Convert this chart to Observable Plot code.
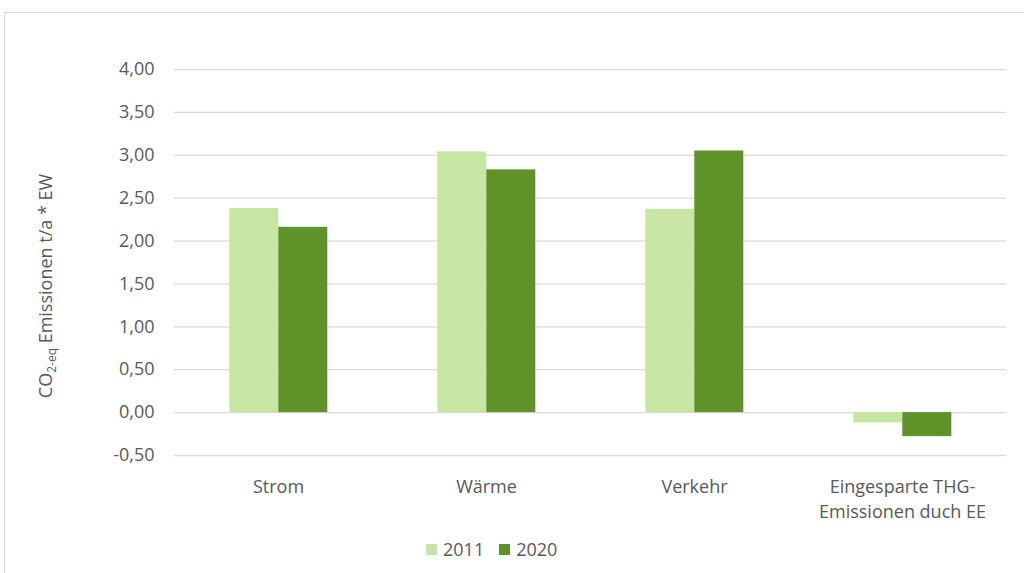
<!DOCTYPE html>
<html>
<head>
<meta charset="utf-8">
<script src="https://cdn.jsdelivr.net/npm/d3@7"></script>
<script src="https://cdn.jsdelivr.net/npm/@observablehq/plot@0.6"></script>
<style>
  html, body { margin: 0; padding: 0; background: #fff; overflow: hidden; width: 1024px; height: 573px; }
  #frame { position: absolute; left: 4px; top: 12px; width: 1100px; height: 700px; border: 1.5px solid #d9d9d9; box-sizing: border-box; }
  #chart { position: absolute; left: 0; top: 0; }
  #legend { position: absolute; left: 426px; top: 537px; font-family: "Open Sans", sans-serif; font-size: 18px; color: #595959; display: flex; align-items: center; }
  #legend .sw { display: inline-block; width: 11px; height: 11px; margin-right: 6px; }
  #legend .item { display: flex; align-items: center; margin-right: 15px; }
</style>
</head>
<body>
<div id="frame"></div>
<div id="chart"></div>
<div id="legend"></div>
<script>
const categories = ["Strom", "Wärme", "Verkehr", "Eingesparte THG-Emissionen duch EE"];
const categoryLabels = ["Strom", "Wärme", "Verkehr", "Eingesparte THG-\nEmissionen duch EE"];
const years = ["2011", "2020"];
const values2011 = [2.38, 3.04, 2.37, -0.12];
const values2020 = [2.16, 2.83, 3.05, -0.28];
const yTicks = [-0.5, 0, 0.5, 1, 1.5, 2, 2.5, 3, 3.5, 4];
const colors = ["#C7E6A3", "#5F9229"];

const data = [];
categories.forEach((c, i) => {
  data.push({category: c, year: years[0], value: values2011[i]});
  data.push({category: c, year: years[1], value: values2020[i]});
});

const fmt = d => d.toFixed(2).replace(".", ",");

const chart = Plot.plot({
  width: 1024,
  height: 530,
  marginLeft: 172.7,
  marginRight: 17,
  marginTop: 69,
  marginBottom: 75,
  style: {fontFamily: "'Open Sans', sans-serif", fontSize: "18px", color: "#595959", background: "transparent"},
  fx: {domain: categories, padding: 0},
  x: {domain: years, paddingInner: 0, paddingOuter: 1.085, axis: null},
  y: {domain: [-0.5, 4]},
  color: {domain: years, range: colors},
  marks: [
    Plot.gridY(yTicks, {stroke: "#d9d9d9", strokeOpacity: 1, strokeWidth: 1.3}),
    Plot.axisY(yTicks, {tickSize: 0, tickPadding: 20, tickFormat: fmt, fontSize: 18, label: null}),
    Plot.axisFx({anchor: "bottom", tickSize: 0, tickPadding: 20, fontSize: 18, lineHeight: 1.39, label: null,
      tickFormat: d => categoryLabels[categories.indexOf(d)]}),
    Plot.barY(data, {fx: "category", x: "year", y: "value", fill: "year"})
  ]
});
document.getElementById("chart").appendChild(chart);

// y-axis title with subscript
const svg = d3.select(chart);
const t = svg.append("text")
  .attr("transform", "translate(52,286) rotate(-90)")
  .attr("text-anchor", "middle")
  .attr("fill", "#595959")
  .attr("font-family", "'Open Sans', sans-serif")
  .attr("font-size", 18);
t.append("tspan").text("CO");
t.append("tspan").attr("font-size", 12).attr("dy", 4).text("2-eq");
t.append("tspan").attr("dy", -4).text(" Emissionen t/a * EW");

// legend
const legend = d3.select("#legend");
years.forEach((y, i) => {
  const item = legend.append("div").attr("class", "item");
  item.append("span").attr("class", "sw").style("background", colors[i]);
  item.append("span").text(y);
});
</script>
</body>
</html>
